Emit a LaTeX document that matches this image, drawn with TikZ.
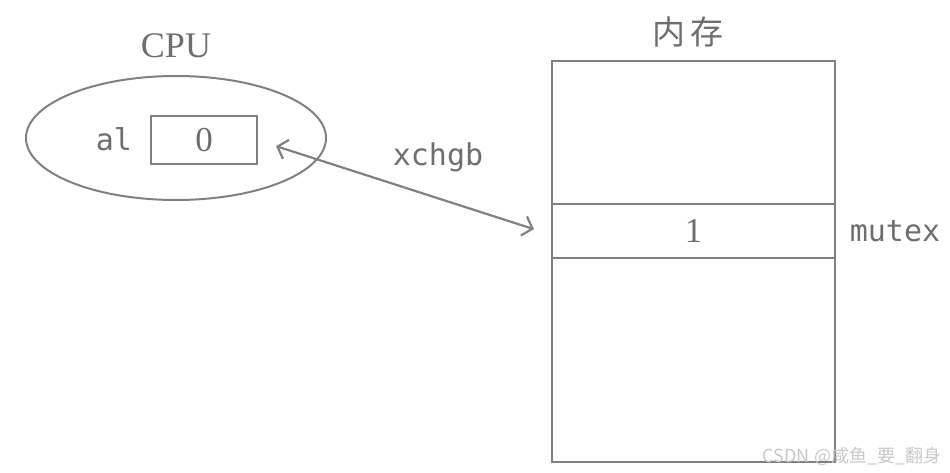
\documentclass[tikz,border=0pt]{standalone}
\usepackage{fontspec}
\setmainfont{Liberation Serif}
\setmonofont{DejaVu Sans Mono}
\newfontfamily\cjk{Noto Sans CJK SC}
\usetikzlibrary{arrows.meta,shapes.geometric}
\definecolor{ln}{HTML}{808080}
\definecolor{tx}{HTML}{6E6E6E}
\definecolor{wm}{HTML}{C8C8C8}
\tikzset{
  monolabel/.style={text=tx, font=\ttfamily\fontsize{30}{34}\selectfont, inner sep=0pt},
  seriflabel/.style={text=tx, font=\fontsize{36}{40}\selectfont, inner sep=0pt},
  cell/.style={draw=ln, line width=2.6pt, rectangle, inner sep=0pt, outer sep=0pt,
    minimum width=283pt, text=tx, font=\fontsize{35}{38}\selectfont},
  regbox/.style={draw=ln, line width=2.4pt, rectangle, inner sep=0pt, outer sep=0pt,
    minimum width=106pt, minimum height=48pt, text=tx, font=\fontsize{35}{38}\selectfont},
  cpuell/.style={draw=ln, line width=2pt, ellipse, inner sep=0pt, outer sep=0pt,
    minimum width=300pt, minimum height=124pt},
  xarrow/.style={draw=ln, line width=2.2pt,
    {Straight Barb[length=9pt,width=20pt,line width=2.2pt]}-{Straight Barb[length=9pt,width=20pt,line width=2.2pt]}}
}
\begin{document}
\begin{tikzpicture}[x=1pt,y=-1pt]
\useasboundingbox (0,0) rectangle (950,473);

% CPU
\node[cpuell] (cpu) at (176,138) {};
\node[seriflabel, anchor=base] (cputitle) at (176,58) {CPU};
\node[monolabel, anchor=base] (al) at (114,151) {al};
\node[regbox] (reg) at (204,140) {0};

% memory
\node[cell, minimum height=143pt] (top) at (693.5,132.5) {};
\node[cell, minimum height=54pt] (mid) at (693.5,231) {1};
\node[cell, minimum height=204pt] (bot) at (693.5,360) {};
\node[text=tx, font=\cjk\fontsize{33}{36}\selectfont, inner sep=0pt] (memtitle) at (688,32) {内\,存};
\node[monolabel, anchor=base] (mutex) at (895,241) {mutex};

% exchange arrow
\draw[xarrow, shorten <=20pt, shorten >=19pt] (reg.east) -- ([yshift=-4pt]mid.west);
\node[monolabel, anchor=base] (xchgb) at (438,166) {xchgb};

% watermark
\node[text=wm, font=\cjk\fontsize{18}{20}\selectfont, inner sep=0pt] (wmark) at (852,456) {CSDN @咸鱼\_要\_翻身};
\end{tikzpicture}
\end{document}
